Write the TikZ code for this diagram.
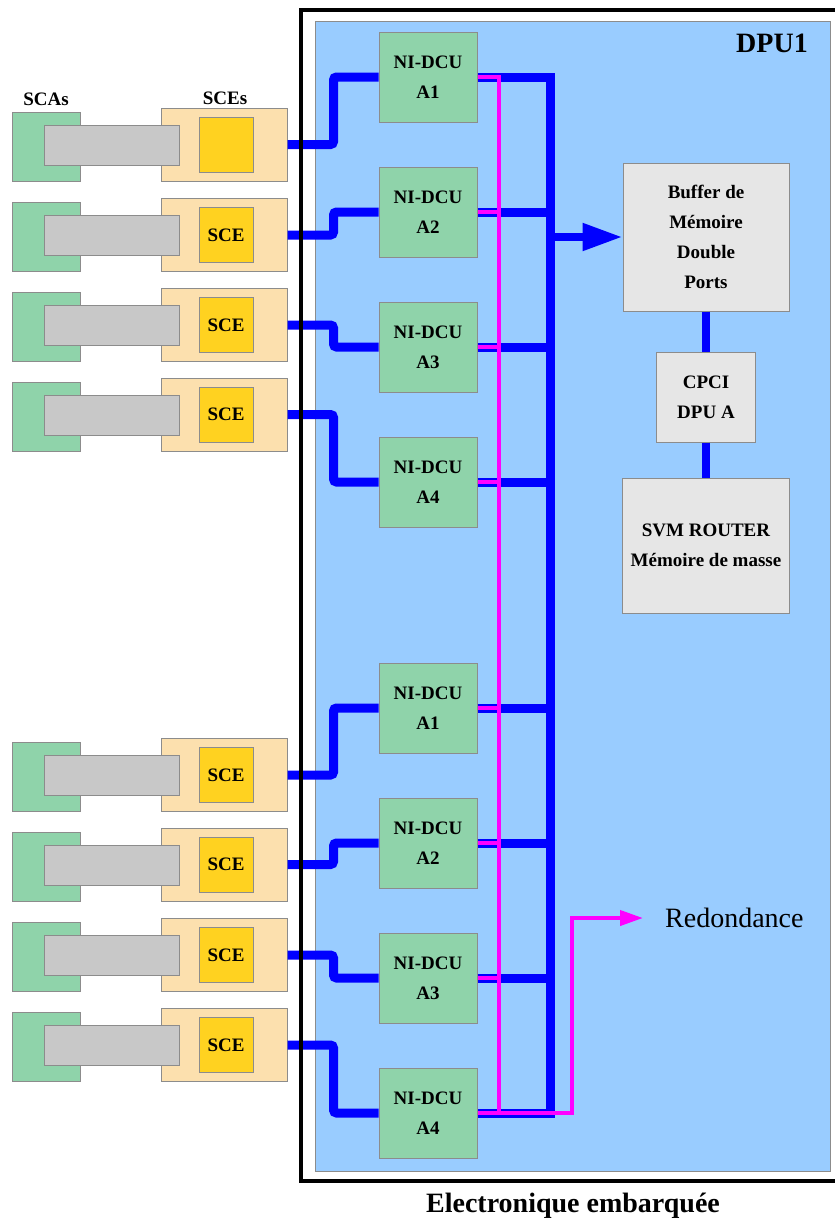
\documentclass[tikz,border=0pt]{standalone}
\usepackage{fontspec}
\setmainfont{Liberation Serif}
\usetikzlibrary{arrows.meta}
\definecolor{panel-blue}{HTML}{99CCFF}
\definecolor{board-green}{HTML}{8FD3AA}
\definecolor{sce-tan}{HTML}{FCE0AE}
\definecolor{sce-yellow}{HTML}{FFD220}
\definecolor{cable-grey}{HTML}{C8C8C8}
\definecolor{unit-grey}{HTML}{E6E6E6}
\definecolor{edge-grey}{HTML}{8C8C8C}
\definecolor{bus-blue}{HTML}{0000FF}
\definecolor{red-magenta}{HTML}{FF00FF}

\begin{document}
\begin{tikzpicture}[x=1pt, y=-1pt,
    every node/.style={font=\fontsize{19}{30}\selectfont\bfseries, inner sep=0pt},
    box/.style={draw=edge-grey, line width=1pt, align=center},
    nidcu/.style={box, fill=board-green, minimum width=98pt, minimum height=90pt},
    sca/.style={box, fill=board-green, minimum width=68pt, minimum height=69pt},
    cable/.style={box, fill=cable-grey, minimum width=135pt, minimum height=40pt},
    scebox/.style={box, fill=sce-tan, minimum width=126pt, minimum height=73pt},
    chip/.style={box, fill=sce-yellow, minimum width=54pt, minimum height=55pt},
    unit/.style={box, fill=unit-grey},
    link/.style={draw=bus-blue, line width=9pt},
    redline/.style={draw=red-magenta, line width=4pt},
    bigfont/.style={font=\fontsize{28}{34}\selectfont\bfseries}]
    \useasboundingbox (0,0) rectangle (835,1219);
    % DPU panel
    \filldraw[fill=panel-blue, draw=edge-grey, line width=1pt] (315,21) rectangle (830.5,1171);
    \node[bigfont] (dpu) at (772,43) {DPU1};

    % acquisition boards
    \node[nidcu] (na1) at (428,77) {NI-DCU\\A1};
    \node[nidcu] (na2) at (428,212) {NI-DCU\\A2};
    \node[nidcu] (na3) at (428,347) {NI-DCU\\A3};
    \node[nidcu] (na4) at (428,482) {NI-DCU\\A4};
    \node[nidcu] (nb1) at (428,708) {NI-DCU\\A1};
    \node[nidcu] (nb2) at (428,843) {NI-DCU\\A2};
    \node[nidcu] (nb3) at (428,978) {NI-DCU\\A3};
    \node[nidcu] (nb4) at (428,1113) {NI-DCU\\A4};

    \node[unit, minimum width=166pt, minimum height=148pt] (buf) at (706,237)
      {Buffer de\\Mémoire\\Double\\Ports};
    \node[unit, minimum width=99pt, minimum height=90pt] (cpci) at (706,397) {CPCI\\DPU A};
    \node[unit, minimum width=167pt, minimum height=135pt] (svm) at (706,545.5)
      {SVM ROUTER\\Mémoire de masse};

    % SCA / SCE rows
    \node[sca] (sca1) at (46,146.5) {};
    \node[scebox] (sce1) at (224,144.5) {};
    \node[cable] (cab1) at (111.5,145) {};
    \node[chip] (chip1) at (226,144.5) {};
    \node[sca] (sca2) at (46,237) {};
    \node[scebox] (sce2) at (224,235) {};
    \node[cable] (cab2) at (111.5,235.5) {};
    \node[chip] (chip2) at (226,235) {SCE};
    \node[sca] (sca3) at (46,327) {};
    \node[scebox] (sce3) at (224,325) {};
    \node[cable] (cab3) at (111.5,325.5) {};
    \node[chip] (chip3) at (226,325) {SCE};
    \node[sca] (sca4) at (46,416.5) {};
    \node[scebox] (sce4) at (224,414.5) {};
    \node[cable] (cab4) at (111.5,415) {};
    \node[chip] (chip4) at (226,414.5) {SCE};
    \node[sca] (sca5) at (46,777) {};
    \node[scebox] (sce5) at (224,775) {};
    \node[cable] (cab5) at (111.5,775.5) {};
    \node[chip] (chip5) at (226,775) {SCE};
    \node[sca] (sca6) at (46,866.5) {};
    \node[scebox] (sce6) at (224,864.5) {};
    \node[cable] (cab6) at (111.5,865) {};
    \node[chip] (chip6) at (226,864.5) {SCE};
    \node[sca] (sca7) at (46,957) {};
    \node[scebox] (sce7) at (224,955) {};
    \node[cable] (cab7) at (111.5,955.5) {};
    \node[chip] (chip7) at (226,955) {SCE};
    \node[sca] (sca8) at (46,1047) {};
    \node[scebox] (sce8) at (224,1045) {};
    \node[cable] (cab8) at (111.5,1045.5) {};
    \node[chip] (chip8) at (226,1045) {SCE};
    \node (scas) at (46,99) {SCAs};
    \node (sces) at (225,98) {SCEs};

    % SCE -> NI-DCU links
    \draw[link, rounded corners=3pt] (sce1.east) -- ++(46,0) |- (na1.west);
    \draw[link, rounded corners=3pt] (sce2.east) -- ++(46,0) |- (na2.west);
    \draw[link, rounded corners=3pt] (sce3.east) -- ++(46,0) |- (na3.west);
    \draw[link, rounded corners=3pt] (sce4.east) -- ++(46,0) |- (na4.west);
    \draw[link, rounded corners=3pt] (sce5.east) -- ++(46,0) |- (nb1.west);
    \draw[link, rounded corners=3pt] (sce6.east) -- ++(46,0) |- (nb2.west);
    \draw[link, rounded corners=3pt] (sce7.east) -- ++(46,0) |- (nb3.west);
    \draw[link, rounded corners=3pt] (sce8.east) -- ++(46,0) |- (nb4.west);

    % data bus
    \coordinate (bustop) at (550,77);
    \coordinate (busbot) at (550,1113);
    \draw[link] (na1.east) -| (busbot) -- (nb4.east);
    \draw[link] (na2.east) -- (na2.east -| bustop);
    \draw[link] (na3.east) -- (na3.east -| bustop);
    \draw[link] (na4.east) -- (na4.east -| bustop);
    \draw[link] (nb1.east) -- (nb1.east -| bustop);
    \draw[link] (nb2.east) -- (nb2.east -| bustop);
    \draw[link] (nb3.east) -- (nb3.east -| bustop);
    \draw[link, line width=8pt, -{Triangle[length=40pt, width=26pt]}] (buf.west -| bustop) -- (buf.west);
    \draw[link, line width=8pt] (buf.south) -- (cpci.north);
    \draw[link, line width=8pt] (cpci.south) -- (svm.north);

    % redundancy line
    \coordinate (redtop) at (499,77);
    \coordinate (redjog) at (572,1113);
    \coordinate (redtip) at (643,918);
    \draw[redline] (na1.east) -| (nb4.east -| redtop);
    \draw[redline] (na2.east) -- (na2.east -| redtop);
    \draw[redline] (na3.east) -- (na3.east -| redtop);
    \draw[redline] (na4.east) -- (na4.east -| redtop);
    \draw[redline] (nb1.east) -- (nb1.east -| redtop);
    \draw[redline] (nb2.east) -- (nb2.east -| redtop);
    \draw[redline] (nb3.east) -- (nb3.east -| redtop);
    \draw[redline, -{Triangle[length=23pt, width=15pt]}] (nb4.east) -- (redjog) |- (redtip);
    \node[font=\fontsize{28}{34}\selectfont, anchor=west] (red) at (665,918) {Redondance};

    % onboard electronics frame
    \draw[line width=4pt] (301,9.5) rectangle (860,1181);
    \node[bigfont] (title) at (573,1206) {Electronique embarquée};
\end{tikzpicture}
\end{document}
